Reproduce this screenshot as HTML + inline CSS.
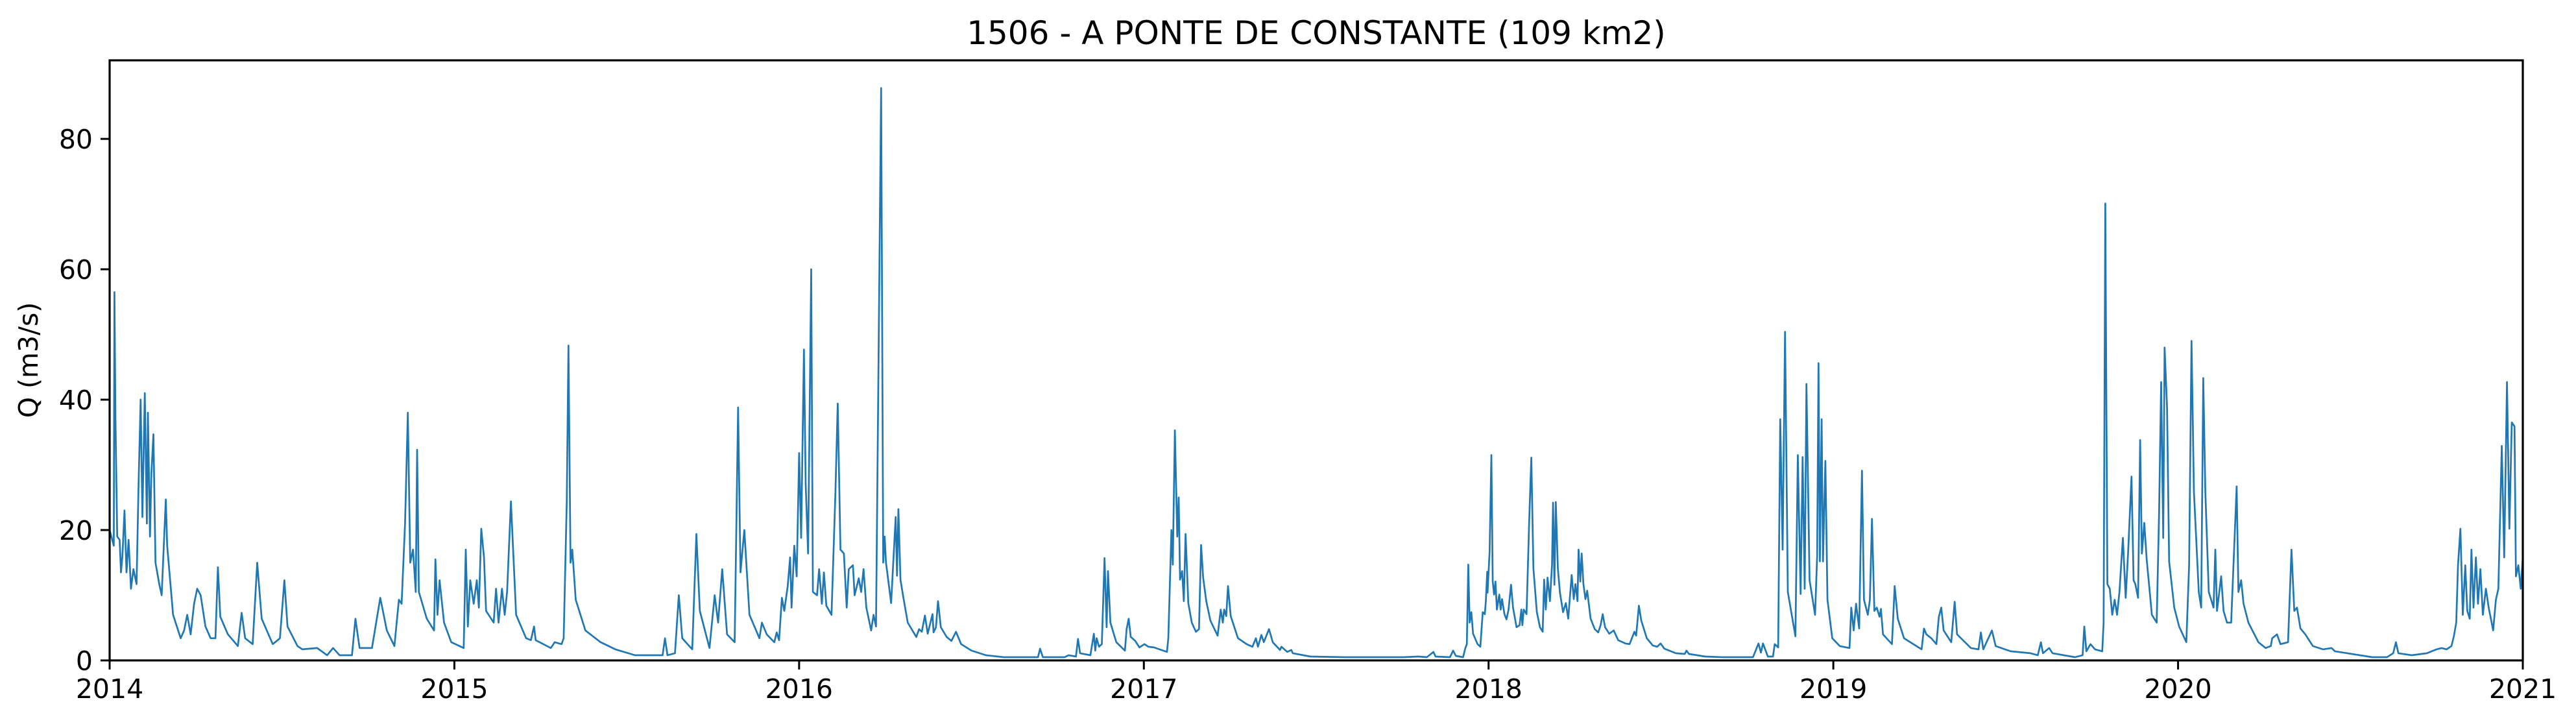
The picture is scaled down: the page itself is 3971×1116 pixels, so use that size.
<!DOCTYPE html>
<html><head><meta charset="utf-8">
<style>
html,body{margin:0;padding:0;background:#fff;}
svg{display:block;}
text{font-family:"DejaVu Sans","Liberation Sans",sans-serif;fill:#000;}
</style></head>
<body>
<svg id="chart" width="3971" height="1116" viewBox="0 0 3971 1116" xmlns="http://www.w3.org/2000/svg">
<text x="2029" y="68" font-size="50" text-anchor="middle">1506 - A PONTE DE CONSTANTE (109 km2)</text>
<text x="0" y="0" font-size="41" text-anchor="middle" transform="translate(58,555) rotate(-90)">Q (m3/s)</text>
</svg>
<script>
// time in years since 2014-01-01, discharge in m3/s
const times = [0,.012,.014,.017,.022,.029,.033,.037,.043,.049,.055,.062,.069,.078,.084,.09,.095,.102,.108,.111,.117,.121,.127,.133,.144,.151,.163,.167,.184,.206,.216,.225,.235,.245,.254,.264,.278,.293,.307,.314,.321,.343,.372,.383,.393,.415,.428,.441,.473,.494,.507,.516,.545,.559,.602,.631,.648,.667,.703,.713,.725,.761,.785,.804,.826,.839,.847,.857,.865,.872,.88,.888,.892,.897,.92,.941,.945,.951,.957,.97,.991,
1.027,1.033,1.039,1.046,1.056,1.065,1.071,1.078,1.086,1.092,1.114,1.121,1.128,1.138,1.146,1.153,1.164,1.179,1.208,1.222,1.231,1.236,1.28,1.291,1.311,1.317,1.326,1.331,1.337,1.342,1.352,1.38,1.424,1.467,1.524,1.604,1.611,1.618,1.64,1.651,1.661,1.69,1.702,1.712,1.74,1.755,1.765,1.777,1.791,1.813,1.823,1.83,1.841,1.856,1.885,1.892,1.906,1.928,1.935,1.942,1.95,1.957,1.967,1.974,1.978,1.986,1.993,
2.0,2.006,2.014,2.019,2.026,2.035,2.04,2.052,2.058,2.066,2.072,2.079,2.094,2.105,2.112,2.12,2.13,2.138,2.144,2.156,2.161,2.173,2.18,2.187,2.195,2.209,2.216,2.223,2.238,2.244,2.248,2.252,2.267,2.28,2.284,2.288,2.294,2.302,2.315,2.34,2.348,2.356,2.365,2.373,2.387,2.39,2.397,2.403,2.411,2.428,2.442,2.455,2.47,2.5,2.542,2.593,2.626,2.693,2.699,2.707,2.77,2.782,2.803,2.809,2.815,2.845,2.855,2.859,2.863,2.87,2.878,2.886,2.892,2.896,2.903,2.92,2.945,2.95,2.956,2.962,2.975,2.987,
3.002,3.013,3.029,3.067,3.071,3.08,3.084,3.09,3.097,3.101,3.105,3.111,3.116,3.121,3.129,3.139,3.151,3.16,3.166,3.172,3.181,3.193,3.214,3.223,3.229,3.233,3.239,3.244,3.252,3.273,3.298,3.315,3.325,3.331,3.341,3.348,3.363,3.374,3.395,3.399,3.416,3.428,3.432,3.483,3.584,3.67,3.754,3.796,3.821,3.84,3.846,3.888,3.897,3.905,3.926,3.932,3.937,3.941,3.945,3.95,3.955,3.968,3.976,3.983,3.989,3.992,3.996,3.997,
4.003,4.008,4.012,4.016,4.02,4.024,4.031,4.035,4.039,4.046,4.052,4.058,4.065,4.071,4.081,4.09,4.095,4.098,4.102,4.11,4.118,4.124,4.13,4.14,4.149,4.157,4.161,4.166,4.171,4.178,4.184,4.187,4.191,4.195,4.201,4.207,4.216,4.224,4.231,4.235,4.241,4.247,4.252,4.258,4.261,4.266,4.27,4.275,4.281,4.286,4.296,4.308,4.318,4.325,4.331,4.338,4.35,4.363,4.376,4.397,4.409,4.423,4.428,4.436,4.443,4.459,4.476,4.489,4.499,4.51,4.543,4.569,4.574,4.581,4.628,4.678,4.72,4.745,
4.767,4.783,4.79,4.796,4.81,4.825,4.83,4.84,4.846,4.853,4.86,4.868,4.89,4.897,4.905,4.911,4.917,4.922,4.931,4.947,4.953,4.957,4.961,4.966,4.97,4.977,4.983,4.997,
5.019,5.047,5.052,5.059,5.066,5.075,5.083,5.089,5.1,5.106,5.112,5.119,5.126,5.134,5.138,5.144,5.17,5.178,5.187,5.205,5.256,5.263,5.27,5.284,5.299,5.306,5.313,5.32,5.342,5.352,5.359,5.399,5.421,5.428,5.435,5.46,5.471,5.514,5.572,5.593,5.602,5.608,5.626,5.636,5.701,5.723,5.728,5.734,5.746,5.759,5.78,5.784,5.789,5.795,5.802,5.809,5.816,5.823,5.83,5.84,5.848,5.855,5.865,5.871,5.876,5.884,5.89,5.895,5.902,5.909,5.924,5.938,5.945,5.951,5.957,5.961,5.968,5.974,5.989,
6.003,6.024,6.032,6.039,6.046,6.06,6.067,6.073,6.079,6.089,6.103,6.108,6.113,6.125,6.132,6.142,6.154,6.164,6.17,6.175,6.183,6.19,6.204,6.233,6.254,6.269,6.273,6.287,6.297,6.319,6.329,6.337,6.345,6.355,6.369,6.391,6.42,6.445,6.455,6.491,6.563,6.606,6.624,6.632,6.639,6.678,6.722,6.75,6.764,6.779,6.793,6.8,6.807,6.812,6.819,6.826,6.833,6.839,6.846,6.851,6.857,6.864,6.87,6.877,6.884,6.893,6.901,6.914,6.922,6.929,6.939,6.946,6.954,6.961,6.968,6.976,6.98,6.987,6.994,7.0];
const flows = [20,17.6,56.5,37,19,18.5,13.5,16,23,13.5,18.5,11,14,11.7,27,40,22,41,21,38,19,28.5,34.7,15,11.7,10,24.7,17.6,7,3.4,4.6,7,4,8.7,11,10,5.2,3.4,3.4,14.3,6.7,4,2.2,7.3,3.4,2.5,15,6.4,2.5,3.4,12.3,5.2,2.2,1.7,1.9,.8,1.9,.8,.8,6.4,1.9,1.9,9.6,4.6,2.2,9.3,8.7,21,38,15,17,10.5,32.3,10.5,6.4,4.6,15.5,7,12.3,5.8,2.8,
1.9,17,5.2,12.3,8.7,12.3,8.1,20.2,15.8,7.6,5.8,11,5.8,11,7,10.5,24.4,7,3.4,3.1,5.2,3.1,1.9,2.8,2.5,3.4,24.4,48.3,15,17,9.3,4.6,2.8,1.7,.8,.8,3.4,.8,1.1,10,3.4,1.7,19.4,7.6,1.9,10,5.8,14,4,2.8,38.8,13.5,20,7,3.4,5.8,4,2.8,4.3,3.1,9.6,7.6,11.4,15.8,8.1,17.6,12.9,
31.8,18.8,47.7,27,16.4,60,10.5,10,14,8.7,13.5,8.4,7,25.3,39.4,17,16.4,8.1,14,14.6,10,12.6,10.5,14,8.1,4.6,7,5.2,87.8,15,19,15,8.8,22,13,23.2,12.4,9.8,5.8,3.6,4.8,4.4,6.9,4.1,7.1,4.3,5.1,9.1,5.1,3.6,3.0,4.4,2.5,1.5,.8,.5,.5,.5,1.8,.5,.5,.8,.6,3.3,1.1,.8,4.1,1.5,3.4,2.1,2.5,15.7,5.1,13.7,5.8,2.8,1.5,4.8,6.4,3.6,3.0,2.0,
2.5,2.1,2.0,1.3,3.4,20,14.7,35.3,19,25,12.4,13.7,9.1,19.4,8.8,5.8,4.4,4.8,17.7,12.7,9.1,6.1,3.8,7.8,5.8,7.8,6.8,11.4,6.8,3.4,2.5,2.1,3.4,2.1,3.9,2.8,4.8,2.8,1.6,2.1,1.3,1.6,1.1,.6,.5,.5,.5,.6,.5,1.3,.6,.5,1.5,.7,.5,1.8,2.5,14.7,5.8,7.4,4.1,2.5,2.1,7.4,7.1,9.1,13.6,10.4,
16.7,31.5,12.1,10.1,12.1,7.8,10.1,7.8,9.4,7.1,6.3,7.8,11.6,8.1,5.1,5.4,7.8,5.4,7.8,7.1,21.7,31.1,14.1,7.4,5.1,4.4,12.4,7.8,12.7,9.1,14.7,24.2,11.6,24.3,14.1,10.4,7.4,8.8,6.4,9.1,13.1,9.4,11.7,9.1,17,12.1,16.4,11.7,9.4,10.7,6.4,4.8,4.3,5.4,7.1,5.1,4.1,4.6,3.1,2.6,2.5,4.4,3.8,8.4,6.1,3.4,2.3,2.1,2.6,1.8,1.1,1.0,1.5,1.0,.6,.5,.5,.5,
.5,2.6,1.2,2.6,.6,.6,2.5,2,37,17,50.4,10.5,3.7,31.5,10.2,31.2,11,42.4,12.3,7,16,45.6,15.2,37,15.2,30.6,9.3,3.4,
2.2,1.9,8.1,4.6,8.7,4.9,29.1,9.3,7,9.3,21.7,7.6,8.1,6.7,7.9,4,2.5,11.4,6.4,3.4,1.7,4.9,4,3.4,2.5,6.7,8.1,4.6,2.8,9,4,1.9,1.7,4.3,1.7,4.6,2.2,1.4,1.1,.8,2.8,1.1,1.9,1.1,.5,.8,5.2,1.4,2.5,1.7,1.4,5.8,70.1,11.7,11,7,9.3,7,10.5,18.8,9.6,16.4,28.2,12.3,11.7,9.6,33.8,16.4,21.1,15.5,7,5.8,22.6,42.7,18.8,48,38.8,15.2,8.1,
5.2,2.8,14.6,49,25.9,10.5,8.1,43.3,25.9,10.5,8.1,17,7.6,12.9,7.6,5.8,5.8,18.8,26.7,10.5,12.3,8.7,5.8,2.8,1.9,2.2,3.4,4,2.5,2.8,17,7.6,8.1,4.9,4,2.2,1.7,1.9,1.4,1.1,.5,.5,1.1,2.8,1.1,.8,1.1,1.7,1.9,1.7,2.2,3.7,5.8,14.6,20.2,7,14.6,7.6,6.4,17,8.1,15.8,8.7,14,7,11,8.1,4.6,9.3,11,32.9,15.8,42.7,20.2,36.5,35.9,12.9,14.6,11,15.8];
const yTicks = [0,20,40,60,80];
const xTicks = [2014,2015,2016,2017,2018,2019,2020,2021];

const L=169,R=3889,T=93,B=1018,YMAX=92.05,T0=2014,T1=2021;
const xs = t => L + t/(T1-T0)*(R-L);
const ys = v => B - v/YMAX*(B-T);
const NS='http://www.w3.org/2000/svg';
const svg=document.getElementById('chart');
function mk(tag,attrs,parent){const e=document.createElementNS(NS,tag);for(const k in attrs)e.setAttribute(k,attrs[k]);(parent||svg).appendChild(e);return e;}

const n=Math.min(times.length,flows.length);
let d='';
for(let i=0;i<n;i++){d+=(i?'L':'M')+xs(times[i]).toFixed(1)+' '+ys(flows[i]).toFixed(1);}
const clip=mk('clipPath',{id:'clip'});mk('rect',{x:L,y:T,width:R-L,height:B-T},clip);
const line=mk('path',{d:d,fill:'none',stroke:'#1f77b4','stroke-width':2.7,'stroke-linejoin':'round','clip-path':'url(#clip)'});



const frame=mk('rect',{x:L,y:T,width:R-L,height:B-T,fill:'none',stroke:'#000','stroke-width':3.2});



yTicks.forEach(v=>{
  const tk=mk('line',{x1:L-14,x2:L,y1:ys(v),y2:ys(v),stroke:'#000','stroke-width':3});
  
  
  const tx=mk('text',{x:L-26,y:ys(v)+15,'font-size':41,'text-anchor':'end'});
  tx.textContent=v;
  
  
});
xTicks.forEach(yr=>{
  const x=xs(yr-T0);
  const tk=mk('line',{x1:x,x2:x,y1:B,y2:B+14,stroke:'#000','stroke-width':3});
  
  
  const tx=mk('text',{x:x,y:B+58,'font-size':41,'text-anchor':'middle'});
  tx.textContent=yr;
  
  
});
</script>
</body></html>
